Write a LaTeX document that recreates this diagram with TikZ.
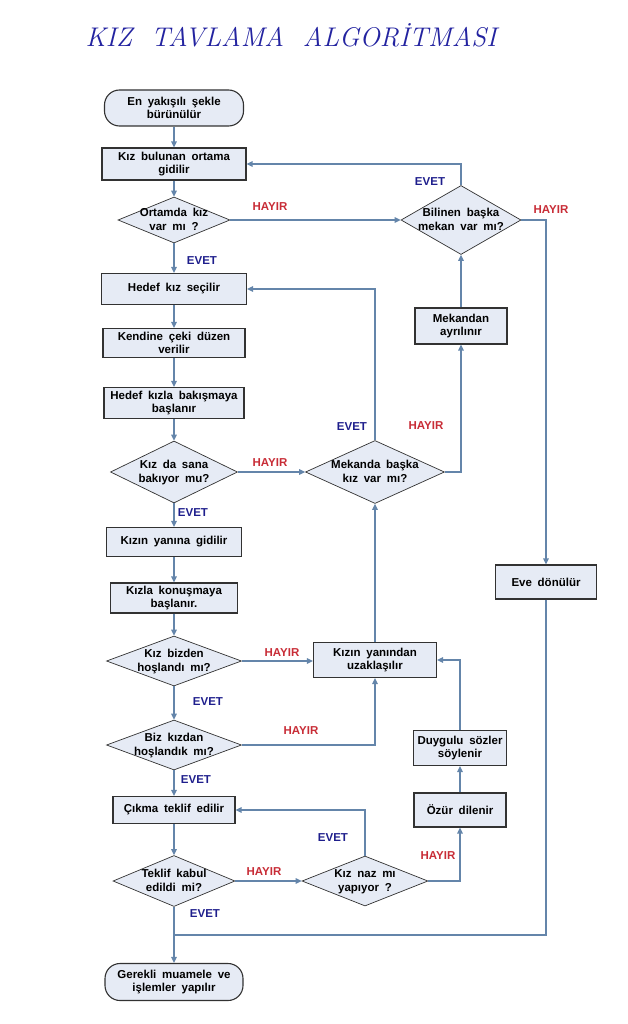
\documentclass[tikz,border=0pt]{standalone}
\usepackage{fontspec}
\setsansfont{Liberation Sans}[WordSpace=1.8]
\usetikzlibrary{shapes.geometric,arrows.meta}
\definecolor{kutuRenk}{RGB}{230,235,245}
\definecolor{cizgi}{RGB}{100,133,170}
\definecolor{kenar}{RGB}{50,50,50}
\definecolor{evetRenk}{RGB}{30,30,140}
\definecolor{hayirRenk}{RGB}{200,45,55}
\definecolor{baslik}{RGB}{35,35,160}
\newcommand{\dtxt}[1]{\smash{\raisebox{-4pt}{\makebox[0pt]{\begin{tabular}{@{}c@{}}#1\end{tabular}}}}}

\begin{document}
\begin{tikzpicture}[x=1pt,y=-1pt,
    every node/.style={font=\sffamily\bfseries\fontsize{11.5}{13.5}\selectfont},
    kutu/.style={rectangle,draw=kenar,line width=1.1pt,fill=kutuRenk,align=center,inner sep=1pt},
    karar/.style={diamond,draw=kenar,line width=0.7pt,fill=kutuRenk,inner sep=0pt},
    uc/.style={kutu,rounded corners=15pt},
    hat/.style={draw=cizgi,line width=1.3pt},
    akis/.style={hat,-{Triangle[length=6pt,width=5.5pt]}},
    evet/.style={text=evetRenk},
    hayir/.style={text=hayirRenk}]
    \useasboundingbox (0,0) rectangle (627,1024);
    \node[font=\rmfamily\itshape\fontsize{27}{30}\selectfont,text=baslik] (baslik) at (291,35) {KIZ\ \ TAVLAMA\ \ ALGORİTMASI};

    \node[uc,minimum width=139pt,minimum height=36pt] (bas) at (174,108) {En  yakışılı şekle\\bürünülür};
    \node[kutu,minimum width=144pt,minimum height=32pt] (ortama) at (174,164) {Kız  bulunan  ortama\\gidilir};
    \node[karar,minimum width=112pt,minimum height=46pt] (ortamda) at (174,220) {\dtxt{Ortamda  kız\\var mı ?}};
    \node[kutu,minimum width=145pt,minimum height=31pt] (hedef) at (174,289) {Hedef  kız  seçilir};
    \node[kutu,minimum width=142pt,minimum height=29pt] (ceki) at (174,343) {Kendine  çeki  düzen\\verilir};
    \node[kutu,minimum width=140pt,minimum height=31pt] (bakis) at (174,403) {Hedef  kızla  bakışmaya\\başlanır};
    \node[karar,minimum width=127pt,minimum height=62pt] (bakiyor) at (174,472) {\dtxt{Kız  da  sana\\bakıyor  mu?}};
    \node[kutu,minimum width=135pt,minimum height=29pt] (yanina) at (174,542) {Kızın  yanına  gidilir};
    \node[kutu,minimum width=127pt,minimum height=30pt] (konus) at (174,598) {Kızla  konuşmaya\\başlanır.};
    \node[karar,minimum width=135pt,minimum height=50pt] (hoslandi) at (174,661) {\dtxt{Kız  bizden\\hoşlandı mı?}};
    \node[karar,minimum width=135pt,minimum height=50pt] (biz) at (174,745) {\dtxt{Biz  kızdan\\hoşlandık mı?}};
    \node[kutu,minimum width=122pt,minimum height=27pt] (cikma) at (174,810) {Çıkma  teklif  edilir};
    \node[karar,minimum width=122pt,minimum height=51pt] (teklif) at (174,881) {\dtxt{Teklif  kabul\\edildi mi?}};
    \node[uc,minimum width=138pt,minimum height=37pt] (son) at (174,982) {Gerekli  muamele ve\\işlemler  yapılır};

    \node[karar,minimum width=120pt,minimum height=69pt] (bilinen) at (461,220) {\dtxt{Bilinen  başka\\mekan var mı?}};
    \node[kutu,minimum width=92pt,minimum height=36pt] (mekandan) at (461,326) {Mekandan\\ayrılınır};
    \node[karar,minimum width=139pt,minimum height=63pt] (mekanda) at (375,472) {\dtxt{Mekanda  başka\\kız  var mı?}};
    \node[kutu,minimum width=123pt,minimum height=35pt] (uzak) at (375,660) {Kızın  yanından\\uzaklaşılır};
    \node[kutu,minimum width=93pt,minimum height=35pt] (duygu) at (460,748) {Duygulu  sözler\\söylenir};
    \node[kutu,minimum width=92pt,minimum height=34pt] (ozur) at (460,810) {Özür  dilenir};
    \node[karar,minimum width=126pt,minimum height=50pt] (naz) at (365,881) {\dtxt{Kız  naz  mı\\yapıyor ?}};
    \node[kutu,minimum width=101pt,minimum height=34pt] (eve) at (546,582) {Eve  dönülür};
    \coordinate (birles) at (174,935);

    \draw[akis] (bas) -- (ortama);
    \draw[akis] (ortama) -- (ortamda);
    \draw[akis] (ortamda) -- (hedef);
    \draw[akis] (hedef) -- (ceki);
    \draw[akis] (ceki) -- (bakis);
    \draw[akis] (bakis) -- (bakiyor);
    \draw[akis] (bakiyor) -- (yanina);
    \draw[akis] (yanina) -- (konus);
    \draw[akis] (konus) -- (hoslandi);
    \draw[akis] (hoslandi) -- (biz);
    \draw[akis] (biz) -- (cikma);
    \draw[akis] (cikma) -- (teklif);
    \draw[akis] (teklif) -- (son);
    \draw[akis] (ortamda.east) -- (bilinen.west);
    \draw[akis] (bilinen.north) |- (ortama.east);
    \draw[akis] (bilinen.east) -| (eve.north);
    \draw[akis] (mekandan) -- (bilinen);
    \draw[akis] (mekanda.east) -| (mekandan.south);
    \draw[akis] (mekanda.north) |- (hedef.east);
    \draw[akis] (bakiyor.east) -- (mekanda.west);
    \draw[akis] (uzak) -- (mekanda);
    \draw[akis] (hoslandi.east) -- (hoslandi.east -| uzak.west);
    \draw[akis] (biz.east) -| (uzak.south);
    \draw[akis] (teklif.east) -- (naz.west);
    \draw[akis] (naz.north) |- (cikma.east);
    \draw[akis] (naz.east) -| (ozur.south);
    \draw[akis] (ozur) -- (duygu);
    \draw[akis] (duygu.north) |- (uzak.east);
    \draw[hat] (eve.south) |- (birles);

    \node[hayir] (h1) at (270,207) {HAYIR};
    \node[evet] (e1) at (202,261) {EVET};
    \node[evet] (e2) at (430,182) {EVET};
    \node[hayir] (h2) at (551,210) {HAYIR};
    \node[evet] (e3) at (352,427) {EVET};
    \node[hayir] (h3) at (426,426) {HAYIR};
    \node[hayir] (h4) at (270,463) {HAYIR};
    \node[evet] (e4) at (193,513) {EVET};
    \node[hayir] (h5) at (282,653) {HAYIR};
    \node[evet] (e5) at (208,702) {EVET};
    \node[hayir] (h6) at (301,731) {HAYIR};
    \node[evet] (e6) at (196,780) {EVET};
    \node[hayir] (h7) at (264,872) {HAYIR};
    \node[evet] (e7) at (333,838) {EVET};
    \node[hayir] (h8) at (438,856) {HAYIR};
    \node[evet] (e8) at (205,914) {EVET};
\end{tikzpicture}
\end{document}
